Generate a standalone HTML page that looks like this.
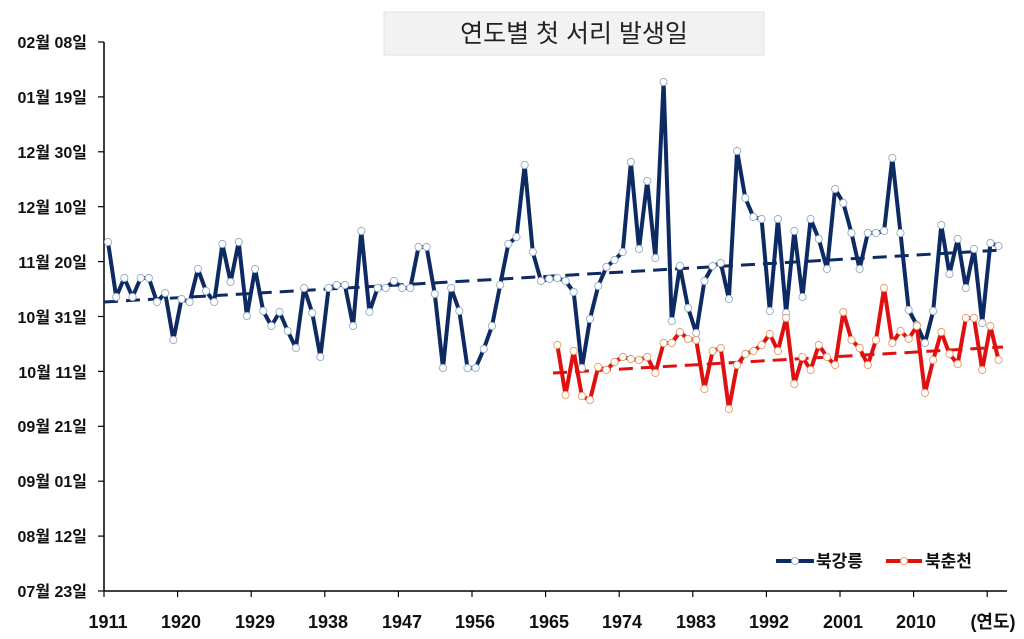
<!DOCTYPE html>
<html><head><meta charset="utf-8">
<style>
html,body{margin:0;padding:0;background:#fff;}
svg{display:block;}
text{font-family:"Liberation Sans","Noto Sans CJK KR",sans-serif;}
</style></head>
<body>
<svg id="s" width="1024" height="639" viewBox="0 0 1024 639" xmlns="http://www.w3.org/2000/svg">
<rect x="384" y="12" width="380" height="43" fill="#f2f2f2" stroke="#e0e0e0"/>
<text x="574" y="42" font-size="25" text-anchor="middle" fill="#222" font-family="Noto Sans CJK KR, sans-serif">연도별 첫 서리 발생일</text>
<g stroke="#000" stroke-width="1.5">
<line x1="104" y1="42" x2="104" y2="591"/>
<line x1="104" y1="591" x2="1007" y2="591"/>
</g>
<g id="ticks" stroke="#000" stroke-width="1.2"></g>
<g font-size="16" font-weight="bold" text-anchor="end" fill="#111">
<text x="87" y="48">02월 08일</text>
<text x="87" y="103">01월 19일</text>
<text x="87" y="158">12월 30일</text>
<text x="87" y="213">12월 10일</text>
<text x="87" y="268">11월 20일</text>
<text x="87" y="323">10월 31일</text>
<text x="87" y="378">10월 11일</text>
<text x="87" y="432">09월 21일</text>
<text x="87" y="487">09월 01일</text>
<text x="87" y="542">08월 12일</text>
<text x="87" y="597">07월 23일</text>
</g>
<g font-size="18" font-weight="bold" text-anchor="middle" fill="#111">
<text x="108" y="628">1911</text>
<text x="181" y="628">1920</text>
<text x="255" y="628">1929</text>
<text x="328" y="628">1938</text>
<text x="402" y="628">1947</text>
<text x="475" y="628">1956</text>
<text x="549" y="628">1965</text>
<text x="622" y="628">1974</text>
<text x="696" y="628">1983</text>
<text x="769" y="628">1992</text>
<text x="843" y="628">2001</text>
<text x="916" y="628">2010</text>
<text x="993" y="628">(연도)</text>
</g>
<line x1="104" y1="302" x2="1003" y2="250" stroke="#0d2a63" stroke-width="3" stroke-dasharray="14,8"/>
<line x1="553" y1="373" x2="1003" y2="347" stroke="#e01010" stroke-width="3" stroke-dasharray="14,8"/>
<g id="series"></g>
<g>
<line x1="776" y1="561" x2="814" y2="561" stroke="#0d2a63" stroke-width="4"/>
<circle cx="795" cy="561" r="3.5" fill="#fff" stroke="#9bb0cc"/>
<text x="816" y="567" font-size="17" font-weight="bold" fill="#111">북강릉</text>
<line x1="886" y1="561" x2="922" y2="561" stroke="#e01010" stroke-width="4"/>
<circle cx="904" cy="561" r="3.5" fill="#fff" stroke="#e8a070"/>
<text x="925" y="567" font-size="17" font-weight="bold" fill="#111">북춘천</text>
</g>
</svg>
<script>
var NS="http://www.w3.org/2000/svg";
var blue=[242,297,278,297,278,278,302,293,340,299,302,269,291,302,244,282,242,316,269,311,326,312,331,348,288,313,357,288,285,285,326,231,312,288,288,281,288,288,247,247,
294,368,288,311,368,368,349,326,285,244,237,165,252,281,279,278,281,292,368,319,286,267,260,252,162,249,181,258,82,321,266,308,333,281,266,
263,299,151,198,217,219,311,219,313,231,297,219,239,269,189,203,233,269,233,233,231,158,233,310,325,343,311,225,274,239,288,249,323,243,246];
var red=[345,395,351,396,400,367,370,362,357,359,360,357,373,343,343,332,339,340,389,351,348,409,365,354,351,345,334,351,318,384,357,370,345,357,365,312,340,348,365,340,288,343,331,339,326,393,360,332,354,364,318,318,370,326,360];
function X(i){return 108+i*8.17;}
var g=document.getElementById("series");
function draw(arr,start,col,mk){
  var pts=arr.map(function(v,k){return X(start+k).toFixed(1)+","+v;}).join(" ");
  var pl=document.createElementNS(NS,"polyline");
  pl.setAttribute("points",pts);pl.setAttribute("fill","none");pl.setAttribute("stroke",col);
  pl.setAttribute("stroke-width","4");pl.setAttribute("stroke-linejoin","round");
  g.appendChild(pl);
  arr.forEach(function(v,k){
    var c=document.createElementNS(NS,"circle");
    c.setAttribute("cx",X(start+k));c.setAttribute("cy",v);c.setAttribute("r","3.6");
    c.setAttribute("fill","#fff");c.setAttribute("stroke",mk);c.setAttribute("stroke-width","1");
    g.appendChild(c);
  });
}
draw(blue,0,"#0d2a63","#9bb0cc");
draw(red,55,"#e01010","#e8a070");
var t=document.getElementById("ticks");
for(var i=0;i<11;i++){var y=42+i*54.9;var l=document.createElementNS(NS,"line");
l.setAttribute("x1",98);l.setAttribute("x2",104);l.setAttribute("y1",y);l.setAttribute("y2",y);t.appendChild(l);}
for(var j=0;j<13;j++){var x=104+j*73.6;if(x>1008)break;var l2=document.createElementNS(NS,"line");
l2.setAttribute("x1",x);l2.setAttribute("x2",x);l2.setAttribute("y1",591);l2.setAttribute("y2",597);t.appendChild(l2);}
</script>
</body></html>
